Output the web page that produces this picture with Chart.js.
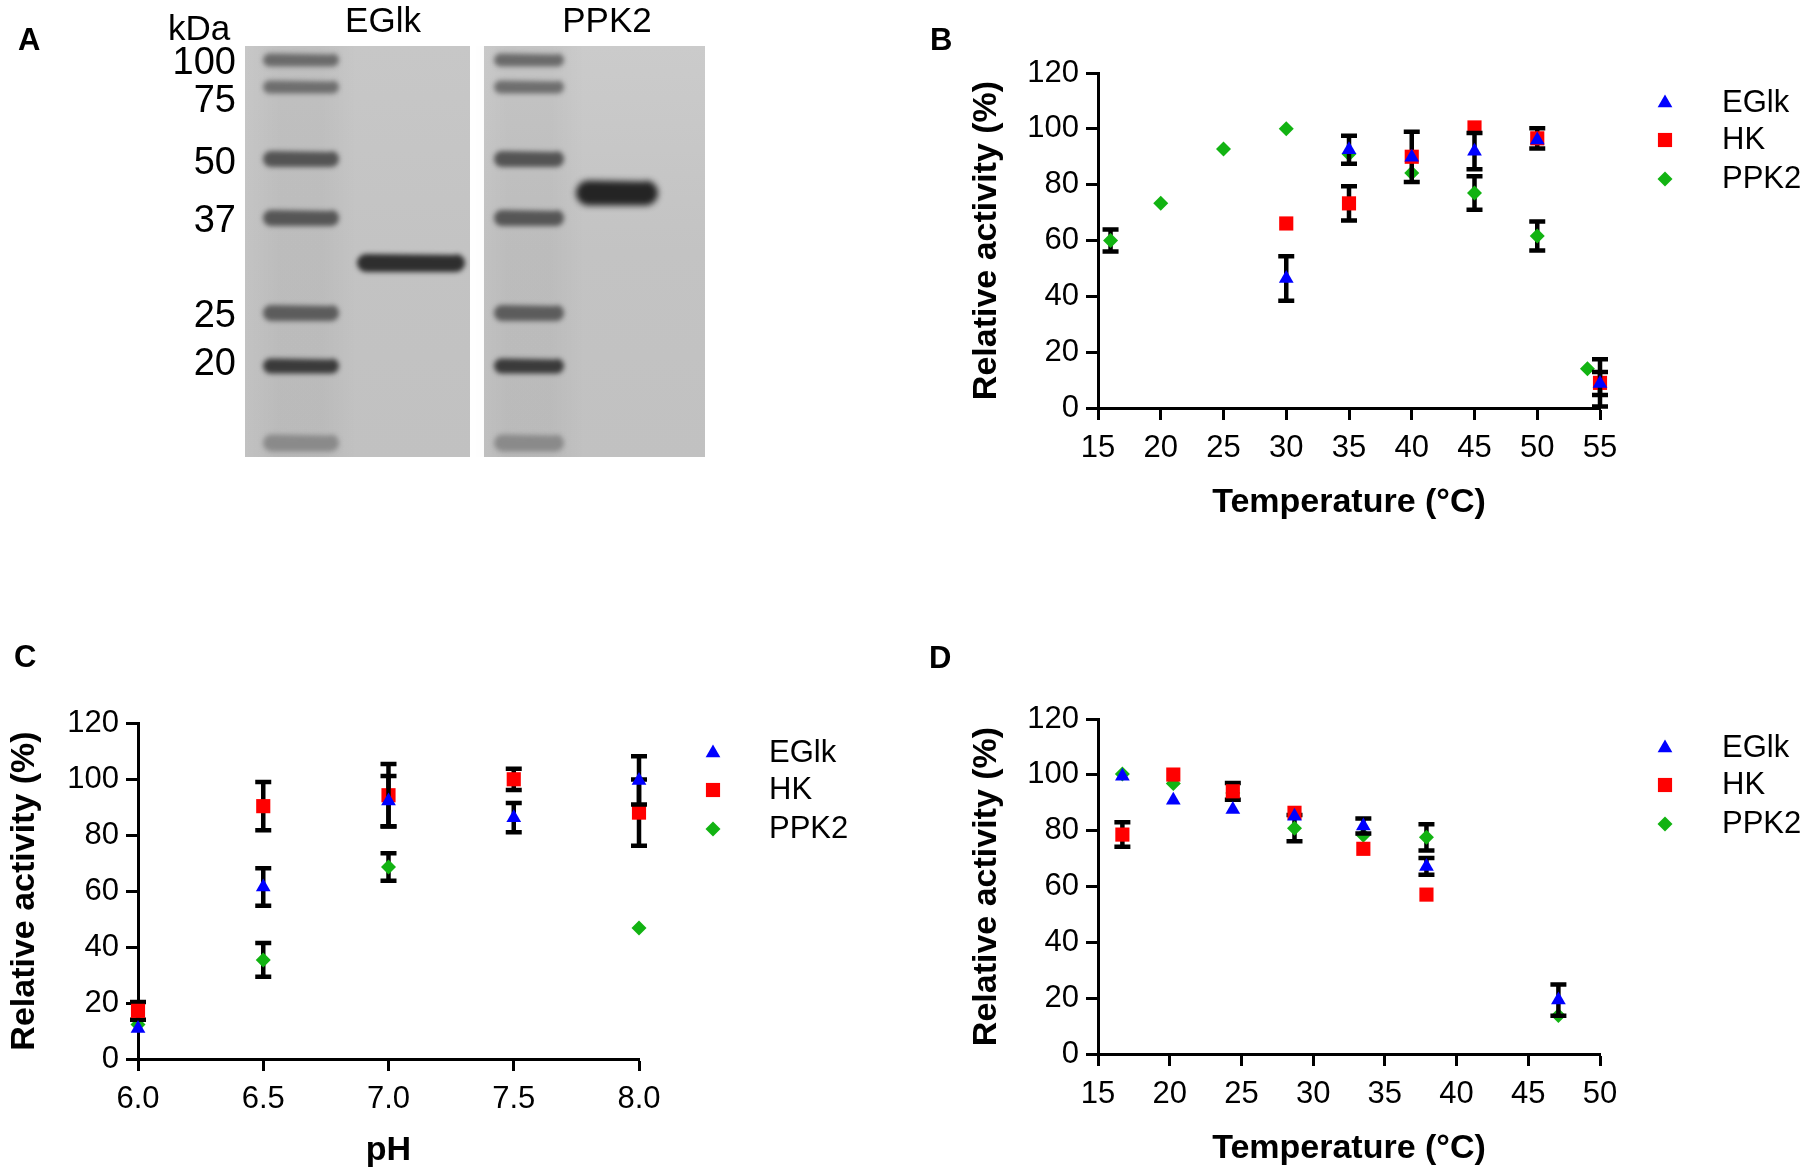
<!DOCTYPE html>
<html>
<head>
<meta charset="utf-8">
<title>EGlk / HK / PPK2 characterisation</title>
<script src="https://cdn.jsdelivr.net/npm/chart.js@4.4.1/dist/chart.umd.min.js"></script>
<style>
html,body{margin:0;padding:0;background:#fff;}
#fig{position:relative;width:1805px;height:1174px;background:#fff;overflow:hidden;}
.panel{position:absolute;}
.panel canvas{display:block;}
</style>
</head>
<body>
<div id="fig">
  <div class="panel" style="left:0;top:0;width:760px;height:497px;"><canvas id="chartA"></canvas></div>
  <div class="panel" style="left:900px;top:0;width:905px;height:560px;"><canvas id="chartB"></canvas></div>
  <div class="panel" style="left:0;top:600px;width:900px;height:574px;"><canvas id="chartC"></canvas></div>
  <div class="panel" style="left:900px;top:646px;width:905px;height:528px;"><canvas id="chartD"></canvas></div>
</div>
<script>
// ================= DATA =================
// Panel A - SDS-PAGE: band migration from top of gel (mm)
const markerKDa = [100, 75, 50, 37, 25, 20];
const markerMigration = [1.4, 4.1, 11.3, 17.2, 26.7, 32.0];
const markerLabelMigration = [1.8, 5.6, 11.8, 17.6, 27.1, 31.9];
const dyeFrontMigration = 39.7;
const sampleNames = ['EGlk', 'PPK2'];
const sampleMigration = [21.7, 14.7];
const laneNames = ['Marker', 'EGlk', 'Marker', 'PPK2'];
const laneCenter = [5.6, 16.6, 28.4, 37.2];

// Panel B - temperature (°C)
const bEGlkT  = [30, 35, 40, 45, 50, 55];
const bEGlk   = [46.4, 92.5, 89.8, 92.0, 96.0, 8.8];
const bEGlkSD = [8.0, 5.0, null, 6.5, null, 4.1];
const bHKT    = [30, 35, 40, 45, 50, 55];
const bHK     = [66.1, 73.3, 90.0, 100.5, 96.6, 9.0];
const bHKSD   = [null, 6.1, 9.0, null, 3.6, 8.5];
const bPPK2T  = [16, 20, 25, 30, 35, 40, 45, 50, 54];
const bPPK2   = [60.0, 73.3, 92.8, 100.0, 91.0, 84.2, 77.0, 61.6, 14.1];
const bPPK2SD = [3.9, null, null, null, null, null, 6.0, 5.2, null];

// Panel C - pH
const cPH     = [6.0, 6.5, 7.0, 7.5, 8.0];
const cEGlk   = [10.9, 61.4, 92.1, 86.2, 99.5];
const cEGlkSD = [null, 6.7, 9.0, 5.2, 8.6];
const cHK     = [17.2, 90.3, 94.2, 99.9, 88.0];
const cHKSD   = [3.2, 8.6, 11.2, 3.8, 11.8];
const cPPK2   = [12.3, 35.4, 68.6, null, 46.8];
const cPPK2SD = [null, 6.0, 4.9, null, null];

// Panel D - temperature (°C)
const dTemp   = [16.7, 20.25, 24.4, 28.7, 33.5, 37.9, 47.1];
const dEGlk   = [99.5, 90.9, 87.6, 85.2, 81.7, 67.2, 19.3];
const dEGlkSD = [null, null, null, null, 2.7, 3.0, 5.6];
const dHK     = [78.6, 100.1, 94.1, 86.4, 73.5, 57.1, null];
const dHKSD   = [4.4, null, 3.0, null, null, null, null];
const dPPK2   = [100.3, 96.9, 93.5, 80.9, 78.4, 77.6, 13.8];
const dPPK2SD = [null, null, null, 4.7, null, 4.7, null];

// Axis titles
const yTitle = 'Relative activity (%)';
const tempTitle = 'Temperature (°C)';
const phTitle = 'pH';

// ================= STYLE =================
const FONT = "'Liberation Sans', Arial, Helvetica, sans-serif";
Chart.defaults.font.family = FONT;
Chart.defaults.color = '#000';
Chart.defaults.animation = false;

const STY = {
  EGlk: {style: 'triangle', color: '#0000ff', r: 8.5},
  HK:   {style: 'rect',     color: '#ff0000', r: 10},
  PPK2: {style: 'rectRot',  color: '#12b312', r: 7.5}
};

function drawMarker(ctx, style, r, x, y) {
  if (Chart.helpers && Chart.helpers.drawPoint) {
    Chart.helpers.drawPoint(ctx, {pointStyle: style, rotation: 0, radius: r, borderWidth: 0}, x, y);
    return;
  }
  ctx.beginPath();
  if (style === 'triangle') {
    const w = r * Math.sin(Math.PI / 3);
    ctx.moveTo(x, y - r); ctx.lineTo(x + w, y + r / 2); ctx.lineTo(x - w, y + r / 2);
  } else if (style === 'rect') {
    const s = r * Math.SQRT1_2; ctx.rect(x - s, y - s, 2 * s, 2 * s);
  } else {
    ctx.moveTo(x, y - r); ctx.lineTo(x + r, y); ctx.lineTo(x, y + r); ctx.lineTo(x - r, y);
  }
  ctx.closePath(); ctx.fill();
}

// error bars drawn just before each dataset's markers
const errorBarPlugin = {
  id: 'errorBars',
  beforeDatasetDraw(chart, args) {
    const ds = chart.data.datasets[args.index];
    const ys = chart.scales.y;
    const ctx = chart.ctx;
    const cap = 16;
    ctx.save();
    ctx.strokeStyle = '#000';
    ctx.lineWidth = 4.5;
    ctx.lineCap = 'butt';
    args.meta.data.forEach((pt, i) => {
      const d = ds.data[i];
      if (!d || d.sd == null) return;
      const x = pt.x;
      const yt = ys.getPixelForValue(d.y + d.sd);
      const yb = ys.getPixelForValue(d.y - d.sd);
      ctx.beginPath();
      ctx.moveTo(x, yt); ctx.lineTo(x, yb);
      ctx.moveTo(x - cap / 2, yt); ctx.lineTo(x + cap / 2, yt);
      ctx.moveTo(x - cap / 2, yb); ctx.lineTo(x + cap / 2, yb);
      ctx.stroke();
    });
    ctx.restore();
  }
};

function makeTextPlugin(items) {
  return {
    id: 'staticText',
    afterDraw(chart) {
      const ctx = chart.ctx;
      items.forEach(it => {
        ctx.save();
        ctx.font = it.font;
        ctx.fillStyle = '#000';
        ctx.textAlign = it.align || 'left';
        ctx.textBaseline = 'alphabetic';
        ctx.fillText(it.text, it.x, it.y);
        ctx.restore();
      });
    }
  };
}

function makeLegendPlugin(markerX, textX, rows) {
  return {
    id: 'sideLegend',
    afterDraw(chart) {
      const ctx = chart.ctx;
      chart.data.datasets.forEach((ds, i) => {
        const y = rows[i];
        ctx.save();
        ctx.fillStyle = ds.backgroundColor;
        drawMarker(ctx, ds.pointStyle, ds.pointRadius, markerX, y);
        ctx.restore();
        ctx.save();
        ctx.fillStyle = '#000';
        ctx.font = '31px ' + FONT;
        ctx.textAlign = 'left';
        ctx.textBaseline = 'middle';
        ctx.fillText(ds.label, textX, y);
        ctx.restore();
      });
    }
  };
}

function series(label, xs, ys, sds) {
  const s = STY[label];
  const data = [];
  xs.forEach((x, i) => { if (ys[i] != null) data.push({x: x, y: ys[i], sd: sds[i]}); });
  return {
    label, data,
    pointStyle: s.style, pointRadius: s.r, pointHoverRadius: s.r,
    backgroundColor: s.color, borderColor: s.color,
    pointBorderWidth: 0, borderWidth: 0, showLine: false, clip: false
  };
}

function gridOpts() {
  return {drawOnChartArea: false, drawTicks: true, tickLength: 12, tickWidth: 3, tickColor: '#000', color: '#000'};
}

function axisX(min, max, step, title, titlePadBottom, height, fmt) {
  return {
    type: 'linear', min, max,
    ticks: {stepSize: step, autoSkip: false, maxRotation: 0, padding: 10, color: '#000', font: {size: 31},
            callback: fmt || (v => String(v))},
    grid: gridOpts(),
    border: {display: true, color: '#000', width: 3},
    title: {display: true, text: title, color: '#000', font: {size: 34, weight: 'bold'},
            padding: {top: 0, bottom: titlePadBottom}},
    afterFit: s => { s.height = height; }
  };
}

function axisY(titlePadTop, width) {
  return {
    type: 'linear', min: 0, max: 120,
    ticks: {stepSize: 20, autoSkip: false, padding: 7, color: '#000', font: {size: 31}},
    grid: gridOpts(),
    border: {display: true, color: '#000', width: 3},
    title: {display: true, text: yTitle, color: '#000', font: {size: 34, weight: 'bold'},
            padding: {top: titlePadTop, bottom: 0}},
    afterFit: s => { s.width = width; }
  };
}

function activityChart(id, datasets, xAxis, yAxis, padding, plugins) {
  return new Chart(document.getElementById(id), {
    type: 'scatter',
    data: {datasets},
    options: {
      responsive: true, maintainAspectRatio: false, animation: false, events: [],
      layout: {padding},
      plugins: {legend: {display: false}, tooltip: {enabled: false}},
      scales: {x: xAxis, y: yAxis}
    },
    plugins: [errorBarPlugin].concat(plugins)
  });
}

// ================= PANEL B =================
activityChart('chartB',
  [series('EGlk', bEGlkT, bEGlk, bEGlkSD), series('HK', bHKT, bHK, bHKSD), series('PPK2', bPPK2T, bPPK2, bPPK2SD)],
  axisX(15, 55, 5, tempTitle, 36.6, 152),
  axisY(66.6, 198),
  {left: 0, top: 73, right: 205, bottom: 0},
  [makeLegendPlugin(765, 822, [103, 140, 179]),
   makeTextPlugin([{text: 'B', x: 30, y: 50, font: 'bold 31px ' + FONT}])]
);

// ================= PANEL C =================
activityChart('chartC',
  [series('EGlk', cPH, cEGlk, cEGlkSD), series('HK', cPH, cHK, cHKSD), series('PPK2', cPH, cPPK2, cPPK2SD)],
  axisX(6, 8, 0.5, phTitle, 2.6, 115, v => Number(v).toFixed(1)),
  axisY(4.6, 138),
  {left: 0, top: 123, right: 261, bottom: 0},
  [makeLegendPlugin(713, 769, [153, 190, 229]),
   makeTextPlugin([{text: 'C', x: 14, y: 67, font: 'bold 31px ' + FONT}])]
);

// ================= PANEL D =================
activityChart('chartD',
  [series('EGlk', dTemp, dEGlk, dEGlkSD), series('HK', dTemp, dHK, dHKSD), series('PPK2', dTemp, dPPK2, dPPK2SD)],
  axisX(15, 50, 5, tempTitle, 4.6, 120),
  axisY(66.6, 198),
  {left: 0, top: 73, right: 205, bottom: 0},
  [makeLegendPlugin(765, 822, [102, 139, 178]),
   makeTextPlugin([{text: 'D', x: 29, y: 22, font: 'bold 31px ' + FONT}])]
);

// ================= PANEL A (gel) =================
const gelExtent = [[0, 22.5], [23.9, 46]];
const sampleLabelX = [13.8, 36.2];

function bandImage(w, h, color, blur) {
  const pad = Math.ceil(blur * 3) + 1;
  const c = document.createElement('canvas');
  c.width = w + 2 * pad; c.height = h + 2 * pad;
  const g = c.getContext('2d');
  g.filter = 'blur(' + blur + 'px)';
  g.fillStyle = color;
  const r = h / 2;
  g.beginPath();
  g.moveTo(pad + r, pad);
  g.lineTo(pad + w - r, pad + 1);
  g.arc(pad + w - r, pad + r, r, -Math.PI / 2, Math.PI / 2);
  g.lineTo(pad + r, pad + h);
  g.arc(pad + r, pad + r, r, Math.PI / 2, 3 * Math.PI / 2);
  g.closePath();
  g.fill();
  return c;
}

const markerBandLook = [
  {h: 13, c: '#6a6a6a'}, {h: 13, c: '#6e6e6e'}, {h: 16, c: '#545454'},
  {h: 16, c: '#565656'}, {h: 16, c: '#5c5c5c'}, {h: 15, c: '#3a3a3a'}, {h: 17, c: '#8a8a8a'}
];
const ladder1Imgs = markerBandLook.map(b => bandImage(76, b.h, b.c, 2.8));
const ladder2Imgs = markerBandLook.map(b => bandImage(70, b.h, b.c, 2.8));
const sampleImgs = [bandImage(108, 18, '#2e2e2e', 2.8), bandImage(82, 25, '#242424', 3)];

const ladderData = [];
[0, 2].forEach(lane => {
  markerMigration.concat([dyeFrontMigration]).forEach(m => ladderData.push({x: laneCenter[lane], y: m}));
});
const sampleData = [
  {x: laneCenter[1], y: sampleMigration[0]},
  {x: laneCenter[3], y: sampleMigration[1]}
];

const gelPlugin = {
  id: 'gelBackground',
  beforeDatasetsDraw(chart) {
    const {ctx, chartArea, scales} = chart;
    const xs = scales.x;
    ctx.save();
    gelExtent.forEach(([a, b], gi) => {
      const x0 = xs.getPixelForValue(a), x1 = xs.getPixelForValue(b);
      const g = ctx.createLinearGradient(0, chartArea.top, 0, chartArea.bottom);
      g.addColorStop(0, gi ? '#cbcbcb' : '#c7c7c7');
      g.addColorStop(0.5, '#c3c3c3');
      g.addColorStop(1, '#c1c1c1');
      ctx.fillStyle = g;
      ctx.fillRect(x0, chartArea.top, x1 - x0, chartArea.bottom - chartArea.top);
    });
    // marker lanes are faintly darker (smear), soft edges
    [0, 2].forEach(l => {
      const xa = xs.getPixelForValue(laneCenter[l] - 5.5), xb = xs.getPixelForValue(laneCenter[l] + 5.5);
      const h = ctx.createLinearGradient(xa, 0, xb, 0);
      h.addColorStop(0, 'rgba(0,0,0,0)');
      h.addColorStop(0.3, 'rgba(0,0,0,0.035)');
      h.addColorStop(0.7, 'rgba(0,0,0,0.035)');
      h.addColorStop(1, 'rgba(0,0,0,0)');
      ctx.fillStyle = h;
      ctx.fillRect(xa, chartArea.top, xb - xa, chartArea.bottom - chartArea.top);
    });
    ctx.restore();
  }
};

new Chart(document.getElementById('chartA'), {
  type: 'scatter',
  data: {
    datasets: [
      {label: 'Marker', data: ladderData, pointRadius: 5, clip: false,
       pointStyle: c => (c.dataIndex < 7 ? ladder1Imgs : ladder2Imgs)[c.dataIndex % 7]},
      {label: 'Purified proteins', data: sampleData, pointRadius: 5, clip: false,
       pointStyle: c => sampleImgs[c.dataIndex]}
    ]
  },
  options: {
    responsive: true, maintainAspectRatio: false, animation: false, events: [],
    layout: {padding: {left: 0, top: 0, right: 55, bottom: 40}},
    plugins: {legend: {display: false}, tooltip: {enabled: false}},
    scales: {
      x: {type: 'linear', min: 0, max: 46, display: false},
      xTop: {
        type: 'linear', position: 'top', axis: 'x', min: 0, max: 46,
        afterBuildTicks: s => { s.ticks = sampleLabelX.map(v => ({value: v})); },
        ticks: {autoSkip: false, maxRotation: 0, padding: 2.5, color: '#000', font: {size: 35},
                callback: (v, i) => sampleNames[i]},
        grid: {display: false, drawTicks: false},
        border: {display: false},
        afterFit: s => { s.height = 46; }
      },
      y: {
        type: 'linear', reverse: true, min: 0, max: 41.1,
        afterBuildTicks: s => { s.ticks = markerLabelMigration.map(v => ({value: v})); },
        ticks: {autoSkip: false, padding: 9, color: '#000', font: {size: 38},
                callback: (v, i) => String(markerKDa[i])},
        grid: {display: false, drawTicks: false},
        border: {display: false},
        afterFit: s => { s.width = 245; }
      }
    }
  },
  plugins: [gelPlugin, makeTextPlugin([
    {text: 'A', x: 18, y: 50, font: 'bold 31px ' + FONT},
    {text: 'kDa', x: 199, y: 40, font: '35px ' + FONT, align: 'center'}
  ])]
});
</script>
</body>
</html>
